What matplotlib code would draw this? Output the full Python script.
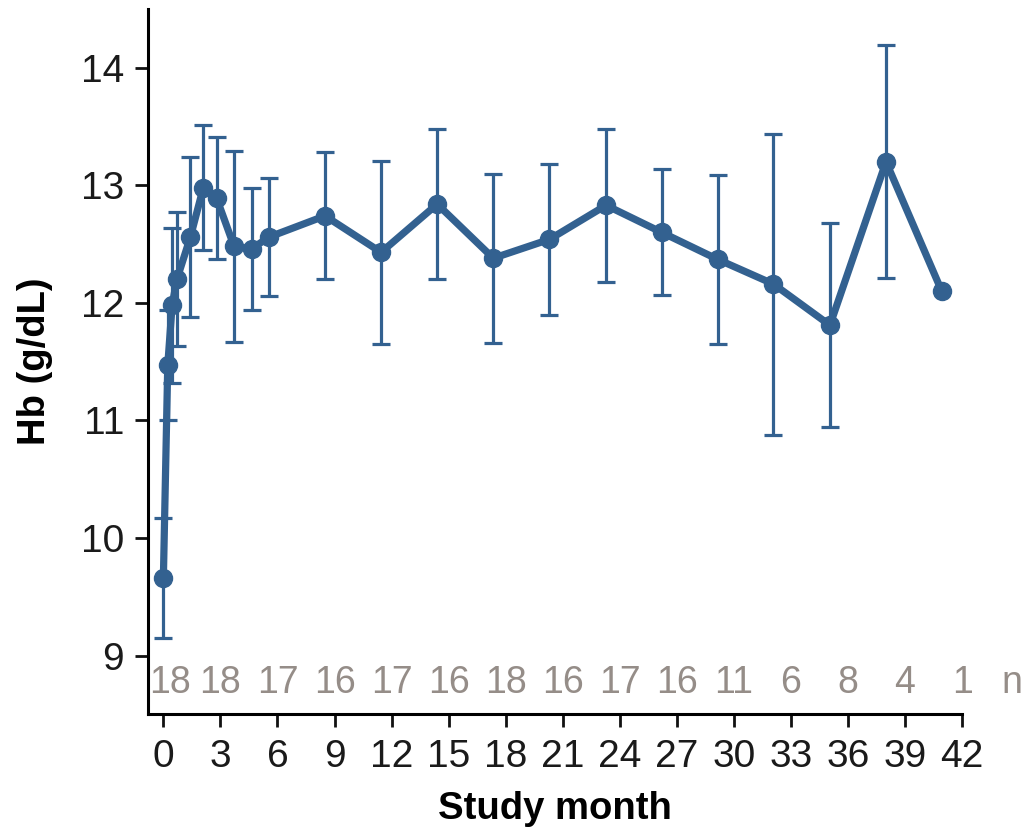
import numpy as np
import matplotlib.pyplot as plt

# study month of each visit, mean Hb and SD
months = [0, 0.23, 0.46, 0.71, 1.42, 2.1, 2.8, 3.72, 4.64, 5.56, 8.5, 11.45,
          14.4, 17.35, 20.3, 23.28, 26.2, 29.15, 32.08, 35.05, 38.0, 40.93]
hb_mean = [9.66, 11.47, 11.98, 12.20, 12.56, 12.98, 12.89, 12.48, 12.46, 12.56, 12.74, 12.43,
           12.84, 12.38, 12.54, 12.83, 12.60, 12.37, 12.16, 11.81, 13.20, 12.10]
hb_sd = [0.51, 0.47, 0.66, 0.57, 0.68, 0.53, 0.52, 0.81, 0.52, 0.50, 0.54, 0.78,
         0.64, 0.72, 0.64, 0.65, 0.535, 0.72, 1.28, 0.87, 0.99, 0.0]

n_months = [0, 3, 6, 9, 12, 15, 18, 21, 24, 27, 30, 33, 36, 39, 42]
n_counts = [18, 18, 17, 16, 17, 16, 18, 16, 17, 16, 11, 6, 8, 4, 1]

blue = '#336190'
grey = '#958d88'

plt.rcParams['font.family'] = ['Liberation Sans', 'DejaVu Sans']

fig = plt.figure(figsize=(10.21, 8.39), dpi=100)
ax = fig.add_axes([0.1453, 0.1486, 0.797, 0.8407])

ax.errorbar(months, hb_mean, yerr=hb_sd, color=blue, lw=5.2, marker='o', markersize=13,
            ecolor=blue, elinewidth=2.3, capsize=6.5, capthick=2.3, zorder=3)

ax.set_xlim(-0.79, 42)
ax.set_ylim(8.5, 14.5)
ax.set_xticks(np.arange(0, 43, 3))
ax.set_yticks([9, 10, 11, 12, 13, 14])

n_font = ['Liberation Sans Narrow', 'Liberation Sans', 'DejaVu Sans']
for i, (m, c) in enumerate(zip(n_months, n_counts)):
    xpos = m + 0.35 if i == 0 else m
    ax.text(xpos, 8.77, str(c), ha='center', va='center', fontsize=27, color=grey,
            family=n_font)
ax.text(44.6, 8.77, 'n', ha='center', va='center', fontsize=27, color=grey,
        family=n_font, clip_on=False)

ax.spines['top'].set_visible(False)
ax.spines['right'].set_visible(False)
for s in ['left', 'bottom']:
    ax.spines[s].set_linewidth(2.2)
ax.tick_params(width=2.0, length=9.5, labelsize=28, pad=8, color='#111111', labelcolor='#1a1a1a')

ax.set_xlabel('Study month', fontsize=27.5, fontweight='bold', labelpad=12)
ax.set_ylabel('Hb (g/dL)', fontsize=27.5, fontweight='bold', labelpad=20)

plt.savefig('out.png', dpi=100)
